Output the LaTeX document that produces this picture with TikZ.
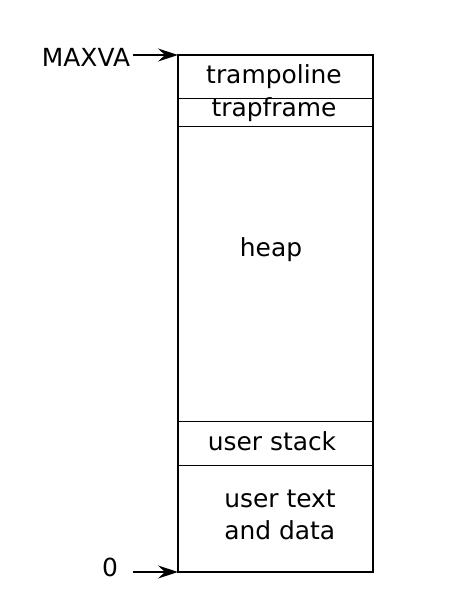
\documentclass[tikz,border=0pt]{standalone}
\usepackage{fontspec}
\setmainfont{DejaVu Sans}
\usetikzlibrary{arrows.meta}

\begin{document}
\begin{tikzpicture}[x=1bp,y=-1bp,
    every node/.style={font=\fontsize{25}{32}\selectfont, inner sep=3bp},
    divider/.style={line width=1pt},
    frame/.style={line width=1.8pt},
    ptr/.style={-{Stealth[length=20bp,width=13bp,inset=7bp]}, line width=1.3pt}]
        \useasboundingbox (0,0) rectangle (453,608);
        \coordinate (maxtop) at (178,55);
        \coordinate (zero) at (178,572);
        \draw[divider] (178,98) -- (373,98);
        \draw[divider] (178,126) -- (373,126);
        \draw[divider] (178,421) -- (373,421);
        \draw[divider] (178,465) -- (373,465);
        \draw[frame] (maxtop) rectangle (373,572);
        \node (tramp) at (274,77) {trampoline};
        \node (tframe) at (274,110) {trapframe};
        \node (heap) at (271,250) {heap};
        \node (ustack) at (272,441) {user stack};
        \node[align=left] (utext) at (280,515) {user text\\and data};
        \node (maxva) at (86,57) {MAXVA};
        \node (zlabel) at (110,567) {0};
        \draw[ptr] (maxva.east |- maxtop) -- (maxtop);
        \draw[ptr, shorten <=12bp] (zlabel.east |- zero) -- (zero);
    \end{tikzpicture}
\end{document}
